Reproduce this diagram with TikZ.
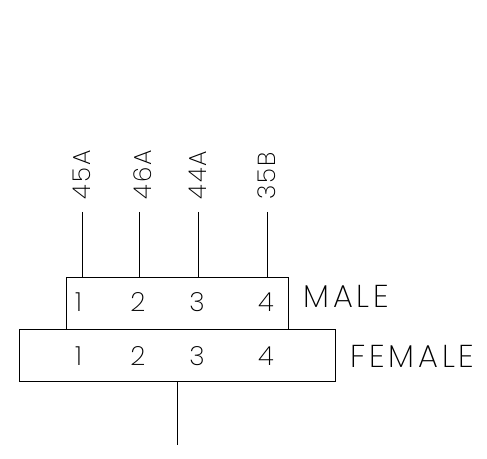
\documentclass[tikz,border=0pt]{standalone}
\usepackage{fontspec}
\usetikzlibrary{positioning}
\newfontfamily\cadfont{Poppins ExtraLight}
\tikzset{
    conbox/.style={draw, line width=0.5pt, inner sep=0pt},
    pinnum/.style={font=\cadfont\fontsize{15}{15}\selectfont, inner sep=0pt},
    wirelabel/.style={font=\cadfont\fontsize{14}{14}\selectfont\addfontfeature{LetterSpace=9}, rotate=90, anchor=west, inner sep=0pt},
    gender/.style={font=\cadfont\fontsize{18}{18}\selectfont\addfontfeature{LetterSpace=12}, anchor=west, inner sep=0pt},
    wire/.style={line width=0.5pt}
}
\begin{document}
\begin{tikzpicture}[x=0.02cm, y=-0.02cm]
        % Page area
        \useasboundingbox (0,0) rectangle (487,459);

        % Connector halves
        \node[conbox, minimum width=222*0.02cm, minimum height=52*0.02cm] (male) at (177,303) {};
        \node[conbox, minimum width=316*0.02cm, minimum height=52*0.02cm] (female) at (177,355) {};

        % Wire ends above the male half
        \coordinate (w1) at (82.5,212);
        \coordinate (w2) at (139.5,212);
        \coordinate (w3) at (198,212);
        \coordinate (w4) at (267,212);
        \coordinate (w5) at (177,445);

        % Wires
        \draw[wire] (w1) -- (w1 |- male.north);
        \draw[wire] (w2) -- (w2 |- male.north);
        \draw[wire] (w3) -- (w3 |- male.north);
        \draw[wire] (w4) -- (w4 |- male.north);
        \draw[wire] (female.south) -- (w5);

        % Wire numbers
        \node[wirelabel] (lbl45) at (82,200) {45A};
        \node[wirelabel] (lbl46) at (143,200) {46A};
        \node[wirelabel] (lbl44) at (198,200) {44A};
        \node[wirelabel] (lbl35) at (267,200) {35B};

        % Pin numbers, male
        \node[pinnum] (m1) at (78.5,302) {1};
        \node[pinnum] (m2) at (138,302) {2};
        \node[pinnum] (m3) at (197,302) {3};
        \node[pinnum] (m4) at (266,302) {4};

        % Pin numbers, female
        \node[pinnum] (f1) at (78.5,356) {1};
        \node[pinnum] (f2) at (138,356) {2};
        \node[pinnum] (f3) at (197,356) {3};
        \node[pinnum] (f4) at (266,356) {4};

        % Names of the halves
        \node[gender] (malename) at (303,296.5) {MALE};
        \node[gender] (femalename) at (350,356) {FEMALE};
\end{tikzpicture}
\end{document}
